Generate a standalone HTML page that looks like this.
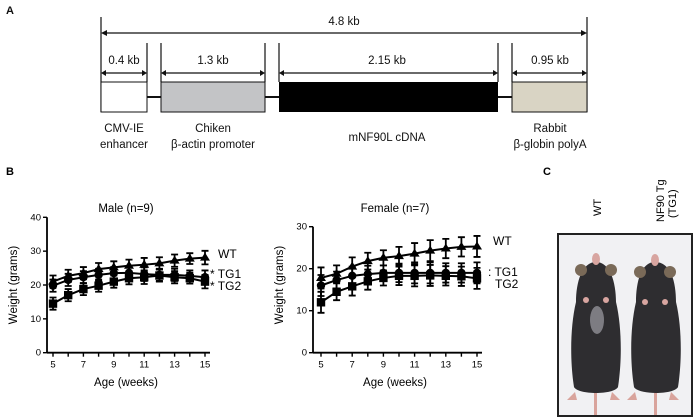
<!DOCTYPE html>
<html><head><meta charset="utf-8"><style>
html,body{margin:0;padding:0;background:#fff}
svg{display:block;font-family:"Liberation Sans",Arial,sans-serif}
</style></head><body>
<svg id="fig" width="697" height="419" viewBox="0 0 697 419">
<g fill="#111">
<text x="6" y="14" font-size="11" font-weight="bold">A</text>
<g stroke="#111" stroke-width="1.2">
<line x1="101" y1="17" x2="101" y2="112"/><line x1="587" y1="17" x2="587" y2="112"/>
<line x1="147" y1="43" x2="147" y2="82"/><line x1="161" y1="43" x2="161" y2="82"/>
<line x1="265" y1="43" x2="265" y2="82"/><line x1="279" y1="43" x2="279" y2="82"/>
<line x1="498" y1="43" x2="498" y2="82"/><line x1="512" y1="43" x2="512" y2="82"/>
<line x1="103" y1="33" x2="585" y2="33"/>
<line x1="103" y1="73" x2="145" y2="73"/><line x1="163" y1="73" x2="263" y2="73"/>
<line x1="281" y1="73" x2="496" y2="73"/><line x1="514" y1="73" x2="585" y2="73"/>
<line x1="147" y1="97" x2="161" y2="97" stroke-width="2"/><line x1="265" y1="97" x2="279" y2="97" stroke-width="2"/><line x1="498" y1="97" x2="512" y2="97" stroke-width="2"/>
</g>
<g>
<path d="M101 33l6-3v6zM587 33l-6-3v6zM101 73l5-3v6zM147 73l-5-3v6zM161 73l5-3v6zM265 73l-5-3v6zM279 73l5-3v6zM498 73l-5-3v6zM512 73l5-3v6zM587 73l-5-3v6z"/>
</g>
<rect x="101" y="82" width="46" height="30" fill="#fff" stroke="#111"/>
<rect x="161" y="82" width="104" height="30" fill="#c3c4c6" stroke="#111"/>
<rect x="279" y="82" width="219" height="30" fill="#000"/>
<rect x="512" y="82" width="75" height="30" fill="#d9d4c4" stroke="#111"/>
<g font-size="11.5" text-anchor="middle">
<text x="344" y="25">4.8 kb</text><text x="124" y="64">0.4 kb</text><text x="213" y="64">1.3 kb</text>
<text x="387" y="64">2.15 kb</text><text x="550" y="64">0.95 kb</text>
<text x="124" y="132">CMV-IE</text><text x="124" y="148">enhancer</text>
<text x="213" y="132">Chiken</text><text x="213" y="148">β-actin promoter</text>
<text x="387" y="141">mNF90L cDNA</text>
<text x="550" y="132">Rabbit</text><text x="550" y="148">β-globin polyA</text>
</g></g>
<text x="6" y="175" font-size="11" font-weight="bold">B</text>
<text x="543" y="175" font-size="11" font-weight="bold">C</text>
<g id="charts"></g>
<g>
<text transform="translate(601,216) rotate(-90)" font-size="11">WT</text>
<text transform="translate(664,222) rotate(-90)" font-size="11">NF90 Tg</text>
<text transform="translate(676,218) rotate(-90)" font-size="11">(TG1)</text>
<rect x="558" y="234" width="134" height="182" fill="#f1f1f3" stroke="#222" stroke-width="2"/>
<g fill="#d9a49c">
<rect x="594" y="385" width="3" height="30"/><rect x="654" y="385" width="3" height="30"/>
<path d="M575 392l-8 8h10zM612 392l8 8h-10zM635 392l-8 8h10zM671 392l8 8h-10z"/>
</g>
<g fill="#2e2d30">
<path d="M596 262c-14 0-20 20-20 40c-6 25-6 60-2 85c4 8 40 8 44 0c4-25 4-60-2-85c0-20-6-40-20-40z"/>
<path d="M655 262c-14 0-19 20-19 40c-6 25-6 60-2 85c4 8 40 8 44 0c4-25 4-60-2-85c0-20-5-40-21-40z"/>
</g>
<g fill="#7a6a58"><circle cx="581" cy="270" r="6"/><circle cx="611" cy="270" r="6"/><circle cx="640" cy="272" r="6"/><circle cx="670" cy="272" r="6"/></g>
<g fill="#d8a5a0"><ellipse cx="596" cy="259" rx="4" ry="6"/><ellipse cx="655" cy="260" rx="4" ry="6"/>
<circle cx="586" cy="300" r="3"/><circle cx="606" cy="300" r="3"/><circle cx="645" cy="302" r="3"/><circle cx="665" cy="302" r="3"/></g>
<ellipse cx="597" cy="320" rx="7" ry="14" fill="#7d7c82"/>
</g>
</svg>
<script>
const ages=[5,6,7,8,9,10,11,12,13,14,15];
const maleWT=[21,22.7,23.5,24.7,25.2,25.7,26,26.4,27.2,27.8,28.1];
const maleTG1=[19.8,21.5,22.3,23,23.5,23.6,23.2,23,23,22.7,22.3];
const maleTG2=[14.5,17,18.8,19.8,21,22,22.3,22.8,22.3,22,21];
const maleErr=[1.8,1.8,1.8,1.8,1.8,1.8,2,1.8,1.8,1.6,2];
const femWT=[17.8,18.8,20.5,21.8,22.6,23,23.6,24.3,24.8,25.2,25.3];
const femTG1=[16,17.3,18.3,18.7,19,19,19,19,19,19,19];
const femTG2=[12,14.5,15.8,17,17.8,18.3,18.3,18.4,18.3,18.2,17.7];
const femErr=[2.5,2,2.2,2,1.8,2.2,2.5,2.5,2.3,2.3,2.5];
const maleTicks=[0,10,20,30,40];
const femTicks=[0,10,20,30];
const xTicks=[5,7,9,11,13,15];
const NS='http://www.w3.org/2000/svg';
const root=document.getElementById('charts');
function mk(tag,attrs,parent){const e=document.createElementNS(NS,tag);for(const k in attrs)e.setAttribute(k,attrs[k]);(parent||root).appendChild(e);return e;}
function chart(cfg){
  const g=mk('g',{});
  
  
  const x=v=>cfg.x0+(v-5)*(cfg.x1-cfg.x0)/10;
  const y=v=>352.7-v*(352.7-cfg.ytop)/cfg.ymax;
  mk('line',{x1:cfg.ax,y1:y(0),x2:cfg.ax,y2:y(cfg.ymax),stroke:'#000','stroke-width':1.8},g);
  mk('line',{x1:cfg.ax,y1:y(0),x2:cfg.x1+5,y2:y(0),stroke:'#000','stroke-width':1.8},g);
  cfg.ticks.forEach(t=>{mk('line',{x1:cfg.ax-4,y1:y(t),x2:cfg.ax,y2:y(t),stroke:'#000','stroke-width':1.4},g);
    const tx=mk('text',{x:cfg.ax-6,y:y(t)+3,'font-size':9.5,'text-anchor':'end'},g);tx.textContent=t;});
  ages.forEach(a=>mk('line',{x1:x(a),y1:y(0),x2:x(a),y2:y(0)+4,stroke:'#000','stroke-width':1.4},g));
  xTicks.forEach(t=>{const tx=mk('text',{x:x(t),y:y(0)+15,'font-size':9.5,'text-anchor':'middle'},g);tx.textContent=t;});
  const tt=mk('text',{x:(cfg.ax+cfg.x1)/2,y:212,'font-size':11.5,'text-anchor':'middle'},g);tt.textContent=cfg.title;
  const xt=mk('text',{x:(cfg.ax+cfg.x1)/2,y:386,'font-size':11.5,'text-anchor':'middle'},g);xt.textContent='Age (weeks)';
  const yt=mk('text',{transform:`translate(${cfg.ax-30},285) rotate(-90)`,'font-size':11.5,'text-anchor':'middle'},g);yt.textContent='Weight (grams)';
  cfg.series.forEach((s,si)=>{
    const sg=mk('g',{},g);
    
    
    mk('polyline',{points:s.v.map((v,i)=>x(ages[i])+','+y(v)).join(' '),fill:'none',stroke:'#000','stroke-width':2},sg);
    s.v.forEach((v,i)=>{const cx=x(ages[i]),cy=y(v),e=cfg.err[i]*(352.7-cfg.ytop)/cfg.ymax;
      mk('path',{d:`M${cx} ${cy-e}V${cy+e}M${cx-3.5} ${cy-e}h7M${cx-3.5} ${cy+e}h7`,stroke:'#000','stroke-width':1.8,fill:'none'},sg);
      if(si==0)mk('path',{d:`M${cx} ${cy-5}l5 8h-10z`},sg);
      else if(si==1)mk('circle',{cx,cy,r:4.2},sg);
      else mk('rect',{x:cx-4.2,y:cy-4.2,width:8.4,height:8.4},sg);});
  });
  cfg.labels.forEach(l=>{const t=mk('text',{x:l[0],y:l[1],'font-size':12},g);t.textContent=l[2];});
}
chart({name:'male-chart',title:'Male (n=9)',ax:47,x0:53,x1:205,ytop:217.3,ymax:40,ticks:maleTicks,err:maleErr,
  series:[{key:'wt',v:maleWT},{key:'tg1',v:maleTG1},{key:'tg2',v:maleTG2}],
  labels:[[218,258,'WT'],[210,278,'* TG1'],[210,290,'* TG2']]});
chart({name:'female-chart',title:'Female (n=7)',ax:313,x0:321,x1:477,ytop:226.7,ymax:30,ticks:femTicks,err:femErr,
  series:[{key:'wt',v:femWT},{key:'tg1',v:femTG1},{key:'tg2',v:femTG2}],
  labels:[[493,245,'WT'],[488,276,': TG1'],[495,288,'TG2']]});
</script>
</body></html>
